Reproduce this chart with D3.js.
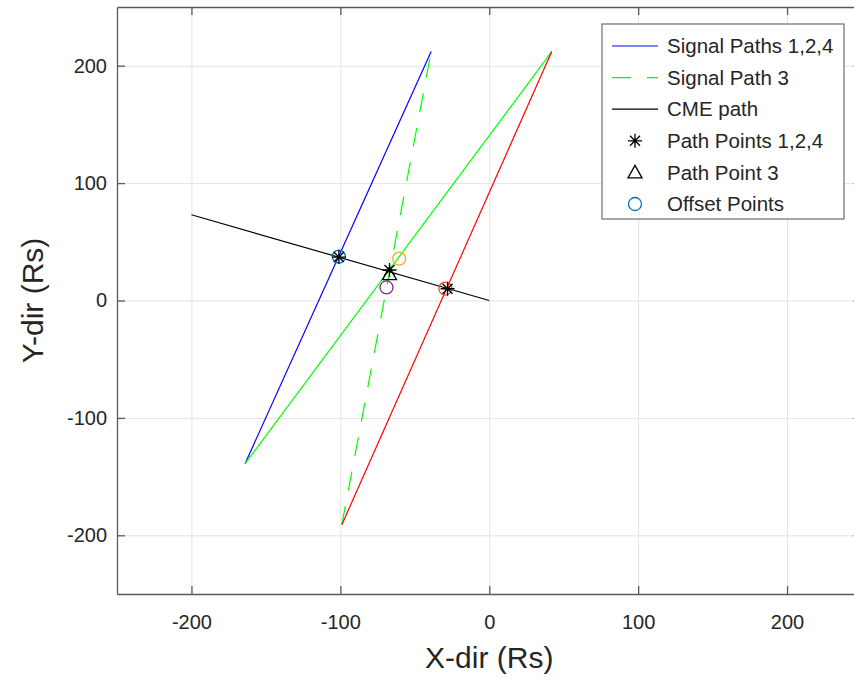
<!DOCTYPE html>
<html>
<head>
<meta charset="utf-8">
<script src="https://cdn.jsdelivr.net/npm/d3@7"></script>
<style>
  body { margin: 0; background: #fff; }
  svg { display: block; font-family: 'Liberation Sans', Arial, sans-serif; }
</style>
</head>
<body>
<div id="chart-area"></div>
<script>
// axis ticks
const xTicks = [-200, -100, 0, 100, 200];
const yTicks = [-200, -100, 0, 100, 200];

// signal paths 1..4 (start / end points)
const pathNames = ['Signal Path 1', 'Signal Path 2', 'Signal Path 3', 'Signal Path 4'];
const pathX0 = [-164, -164, -99, -99];
const pathY0 = [-139, -139, -191, -191];
const pathX1 = [-39, 42, -39, 42];
const pathY1 = [212, 212, 212, 212];
const pathColors = ['#0000ff', '#00ff00', '#00ff00', '#ff0000'];
const pathDashed = [false, false, true, false];

// CME path
const cmeX = [-200, 0];
const cmeY = [73, 0];

// path points 1,2,4 (asterisks) and path point 3 (triangle)
const starX = [-101, -67, -28];
const starY = [37, 26, 10];
const triX = [-67];
const triY = [22.5];

// offset points
const offX = [-101, -29.5, -60.5, -69];
const offY = [37.4, 10.2, 35.7, 11.1];
const offColors = ['#0072BD', '#D95319', '#EDB120', '#7E2F8E'];

const legendLabels = ['Signal Paths 1,2,4', 'Signal Path 3', 'CME path',
  'Path Points 1,2,4', 'Path Point 3', 'Offset Points'];

let width = 854;
let height = 681;
let plot = { left: 117, right: 861.5, top: 7, bottom: 594 };

let x = d3.scaleLinear().domain([-250, 250]).range([plot.left, plot.right]);
let y = d3.scaleLinear().domain([-250, 250]).range([plot.bottom, plot.top]);

let svg = d3.select('#chart-area').append('svg')
  .attr('width', width).attr('height', height);

//grid
svg.append('g')
  .attr('class', 'grid')
  .attr('transform', `translate(0, ${plot.bottom})`)
  .call(d3.axisBottom(x).tickValues(xTicks).tickSize(-(plot.bottom - plot.top)).tickFormat(''));
svg.append('g')
  .attr('class', 'grid')
  .attr('transform', `translate(${plot.left}, 0)`)
  .call(d3.axisLeft(y).tickValues(yTicks).tickSize(-(plot.right - plot.left)).tickFormat(''));
svg.selectAll('.grid .domain').remove();
svg.selectAll('.grid line').attr('stroke', '#e4e4e4');

//axes
let axisColor = '#5a5a5a';
let fmt = (d) => String(d); // plain hyphen minus like the original
let axes = svg.append('g').attr('class', 'axes');
axes.append('g')
  .attr('transform', `translate(0, ${plot.bottom})`)
  .call(d3.axisBottom(x).tickValues(xTicks).tickFormat(fmt).tickSizeInner(-8).tickSizeOuter(0).tickPadding(21));
axes.append('g')
  .attr('transform', `translate(${plot.left}, 0)`)
  .call(d3.axisLeft(y).tickValues(yTicks).tickFormat(fmt).tickSizeInner(-8).tickSizeOuter(0).tickPadding(10));
axes.append('g')
  .attr('transform', `translate(0, ${plot.top})`)
  .call(d3.axisTop(x).tickValues(xTicks).tickSizeInner(-8).tickSizeOuter(0).tickFormat(''));
axes.append('g')
  .attr('transform', `translate(${plot.right}, 0)`)
  .call(d3.axisRight(y).tickValues(yTicks).tickSizeInner(-8).tickSizeOuter(0).tickFormat(''));
axes.selectAll('.domain, .tick line').attr('stroke', axisColor).attr('stroke-width', 1.3);
axes.selectAll('.tick text')
  .attr('font-family', 'Liberation Sans, Arial, sans-serif')
  .attr('font-size', 20).attr('fill', '#262626');

//axis labels
svg.append('text')
  .attr('x', (plot.left + plot.right) / 2).attr('y', 668)
  .attr('text-anchor', 'middle').attr('font-size', 30).attr('fill', '#262626')
  .text('X-dir (Rs)');
svg.append('text')
  .attr('transform', `translate(43, ${(plot.top + plot.bottom) / 2}) rotate(-90)`)
  .attr('text-anchor', 'middle').attr('font-size', 30).attr('fill', '#262626')
  .text('Y-dir (Rs)');

//signal paths
let lines = svg.append('g').attr('id', 'paths');
lines.selectAll('line')
  .data(pathNames)
  .enter()
  .append('line')
  .attr('x1', (d, i) => x(pathX0[i]))
  .attr('y1', (d, i) => y(pathY0[i]))
  .attr('x2', (d, i) => x(pathX1[i]))
  .attr('y2', (d, i) => y(pathY1[i]))
  .attr('stroke', (d, i) => pathColors[i])
  .attr('stroke-width', 1.2)
  .attr('stroke-dasharray', (d, i) => (pathDashed[i] ? '19,16' : null));

//CME path
svg.append('path')
  .datum(cmeX.map((d, i) => [d, cmeY[i]]))
  .attr('d', d3.line().x((d) => x(d[0])).y((d) => y(d[1])))
  .attr('fill', 'none').attr('stroke', '#000').attr('stroke-width', 1.2);

//markers
let star = 'M-7,0H7M0,-7V7M-5,-5L5,5M-5,5L5,-5';
let tri = 'M0,-7L7,5.5H-7Z';

svg.append('g').selectAll('circle')
  .data(offX)
  .enter()
  .append('circle')
  .attr('cx', (d) => x(d))
  .attr('cy', (d, i) => y(offY[i]))
  .attr('r', 6.5)
  .attr('fill', 'none')
  .attr('stroke', (d, i) => offColors[i])
  .attr('stroke-width', 1.3);

svg.append('g').selectAll('path')
  .data(starX)
  .enter()
  .append('path')
  .attr('transform', (d, i) => `translate(${x(d)}, ${y(starY[i])})`)
  .attr('d', star)
  .attr('stroke', '#000').attr('stroke-width', 1.3).attr('fill', 'none');

svg.append('g').selectAll('path')
  .data(triX)
  .enter()
  .append('path')
  .attr('transform', (d, i) => `translate(${x(d)}, ${y(triY[i])})`)
  .attr('d', tri)
  .attr('stroke', '#000').attr('stroke-width', 1.3).attr('fill', 'none');

//legend
let legend = svg.append('g').attr('id', 'legend');
legend.append('rect')
  .attr('x', 602).attr('y', 24).attr('width', 242).attr('height', 195)
  .attr('fill', '#fff').attr('stroke', '#6e6e6e').attr('stroke-width', 1.2);

let rows = legend.selectAll('g.row')
  .data(legendLabels)
  .enter()
  .append('g')
  .attr('class', 'row')
  .attr('transform', (d, i) => `translate(0, ${46 + i * 31.6})`);
rows.append('text')
  .attr('x', 667).attr('y', 0).attr('dy', '0.35em')
  .attr('font-size', 20.5).attr('fill', '#262626')
  .text((d) => d);

rows.filter((d, i) => i < 3).append('line')
  .attr('x1', 612).attr('x2', 658)
  .attr('stroke', (d, i) => ['#0000ff', '#00ff00', '#000'][i])
  .attr('stroke-width', 1.2)
  .attr('stroke-dasharray', (d, i) => (i == 1 ? '19,16' : null));
rows.filter((d, i) => i == 3).append('path')
  .attr('transform', 'translate(635, 0)').attr('d', star)
  .attr('stroke', '#000').attr('stroke-width', 1.3).attr('fill', 'none');
rows.filter((d, i) => i == 4).append('path')
  .attr('transform', 'translate(635, 0)').attr('d', tri)
  .attr('stroke', '#000').attr('stroke-width', 1.3).attr('fill', 'none');
rows.filter((d, i) => i == 5).append('circle')
  .attr('cx', 635).attr('r', 6.5)
  .attr('fill', 'none').attr('stroke', '#0072BD').attr('stroke-width', 1.3);
</script>
</body>
</html>
